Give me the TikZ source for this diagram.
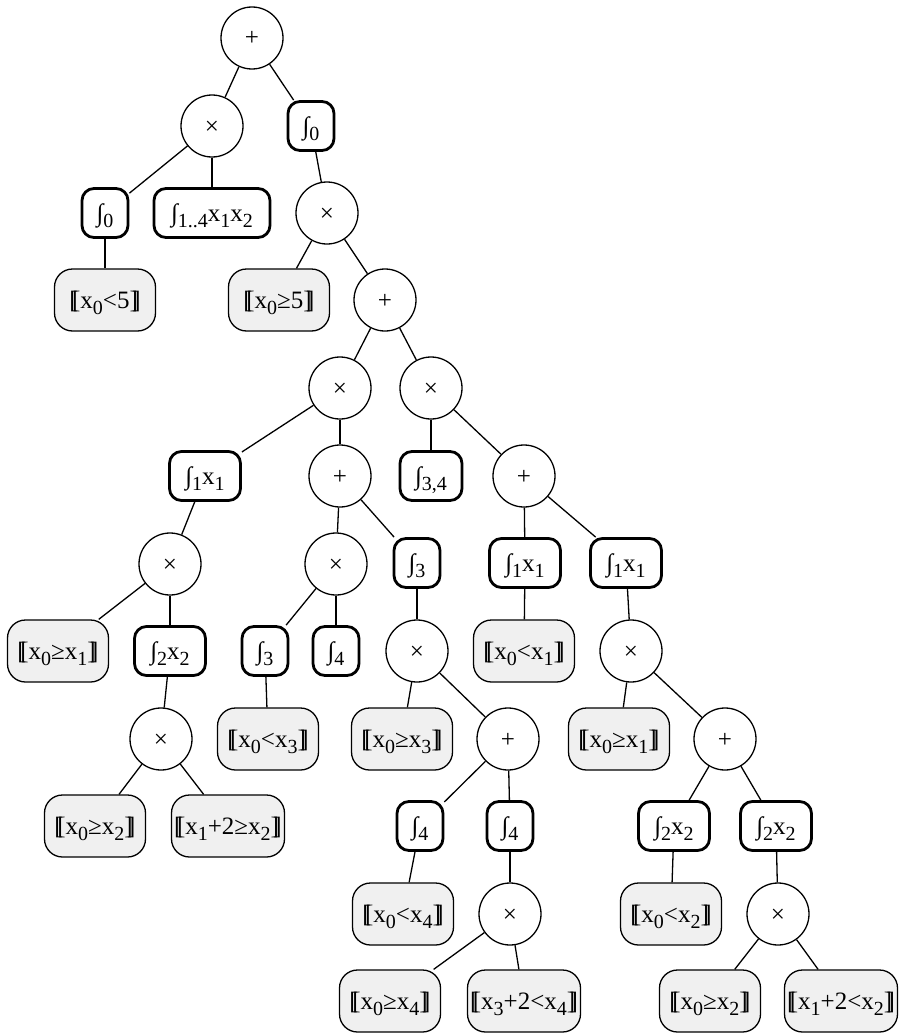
\documentclass[tikz,border=0pt]{standalone}
\usepackage{fontspec}
\setmainfont{Liberation Serif}
\definecolor{condgray}{RGB}{240,240,240}
\newcommand\sbs[1]{\raisebox{-0.25em}{\fontsize{20}{24}\selectfont #1}}
\newcommand\lbr{[\kern-0.22em[}
\newcommand\rbr{]\kern-0.22em]}
\begin{document}
\begin{tikzpicture}[x=1pt,y=-1pt,
  every node/.style={font=\fontsize{25}{30}\selectfont,text height=18pt,text depth=2pt},
  op/.style={circle,draw,line width=1.3pt,fill=white,minimum size=62pt,inner sep=0pt},
  intb/.style={rectangle,rounded corners=12pt,draw,line width=2.8pt,fill=white,minimum height=49pt,minimum width=46pt,inner sep=0pt},
  cond/.style={rectangle,rounded corners=18pt,draw,line width=1.3pt,fill=condgray,minimum height=62pt,minimum width=101pt,inner sep=0pt},
  wide/.style={minimum width=113pt},
  edge/.style={line width=1.3pt}]
\useasboundingbox (0,0) rectangle (902,1033);
% row 0
\node[op] (n1) at (252,38) {+};
% row 1
\node[op] (m1) at (212,126) {×};
\node[intb] (i1) at (311,126) {∫\sbs{0}};
% row 2
\node[intb] (i2) at (105,213) {∫\sbs{0}};
\node[intb,minimum width=116pt] (i3) at (212,213) {∫\sbs{1..4}x\sbs{1}x\sbs{2}};
\node[op] (m2) at (327,213) {×};
% row 3
\node[cond] (g1) at (105,300) {\lbr x\sbs{0}<5\rbr};
\node[cond] (g2) at (279,300) {\lbr x\sbs{0}≥5\rbr};
\node[op] (p2) at (385,300) {+};
% row 4
\node[op] (m3) at (340,388) {×};
\node[op] (m4) at (431,388) {×};
% row 5
\node[intb,minimum width=71pt] (i4) at (205,476) {∫\sbs{1}x\sbs{1}};
\node[op] (p3) at (340,476) {+};
\node[intb,minimum width=62pt] (i5) at (431,476) {∫\sbs{3,4}};
\node[op] (p4) at (524,476) {+};
% row 6
\node[op] (m5) at (170,564) {×};
\node[op] (m6) at (336,564) {×};
\node[intb] (i6) at (417,563) {∫\sbs{3}};
\node[intb,minimum width=71pt] (i7) at (525,563) {∫\sbs{1}x\sbs{1}};
\node[intb,minimum width=71pt] (i8) at (626,563) {∫\sbs{1}x\sbs{1}};
% row 7
\node[cond] (g3) at (58,651) {\lbr x\sbs{0}≥x\sbs{1}\rbr};
\node[intb,minimum width=71pt] (i9) at (170,651) {∫\sbs{2}x\sbs{2}};
\node[intb] (i10) at (265,651) {∫\sbs{3}};
\node[intb] (i11) at (336,651) {∫\sbs{4}};
\node[op] (m7) at (417,651) {×};
\node[cond] (g4) at (524,651) {\lbr x\sbs{0}<x\sbs{1}\rbr};
\node[op] (m8) at (631,651) {×};
% row 8
\node[op] (m9) at (161,739) {×};
\node[cond] (g5) at (268,739) {\lbr x\sbs{0}<x\sbs{3}\rbr};
\node[cond] (g6) at (402,739) {\lbr x\sbs{0}≥x\sbs{3}\rbr};
\node[op] (p5) at (508,739) {+};
\node[cond] (g7) at (619,739) {\lbr x\sbs{0}≥x\sbs{1}\rbr};
\node[op] (p6) at (725,739) {+};
% row 9
\node[cond] (g8) at (95,826) {\lbr x\sbs{0}≥x\sbs{2}\rbr};
\node[cond,wide] (g9) at (228,826) {\lbr x\sbs{1}+2≥x\sbs{2}\rbr};
\node[intb] (i12) at (420,826) {∫\sbs{4}};
\node[intb] (i13) at (510,826) {∫\sbs{4}};
\node[intb,minimum width=71pt] (i14) at (674,826) {∫\sbs{2}x\sbs{2}};
\node[intb,minimum width=71pt] (i15) at (776,826) {∫\sbs{2}x\sbs{2}};
% row 10
\node[cond] (g10) at (403,914) {\lbr x\sbs{0}<x\sbs{4}\rbr};
\node[op] (m10) at (510,914) {×};
\node[cond] (g11) at (671,914) {\lbr x\sbs{0}<x\sbs{2}\rbr};
\node[op] (m11) at (778,914) {×};
% row 11
\node[cond] (g12) at (390,1001) {\lbr x\sbs{0}≥x\sbs{4}\rbr};
\node[cond,wide] (g13) at (524,1001) {\lbr x\sbs{3}+2<x\sbs{4}\rbr};
\node[cond] (g14) at (710,1001) {\lbr x\sbs{0}≥x\sbs{2}\rbr};
\node[cond,wide] (g15) at (841,1001) {\lbr x\sbs{1}+2<x\sbs{2}\rbr};
% edges
\draw[edge] (n1) -- (m1);
\draw[edge] (n1) -- (i1);
\draw[edge] (m1) -- (i2);
\draw[edge] (m1) -- (i3);
\draw[edge] (i2) -- (g1);
\draw[edge] (i1) -- (m2);
\draw[edge] (m2) -- (g2);
\draw[edge] (m2) -- (p2);
\draw[edge] (p2) -- (m3);
\draw[edge] (p2) -- (m4);
\draw[edge] (m3) -- (i4);
\draw[edge] (m3) -- (p3);
\draw[edge] (m4) -- (i5);
\draw[edge] (m4) -- (p4);
\draw[edge] (i4) -- (m5);
\draw[edge] (m5) -- (g3);
\draw[edge] (m5) -- (i9);
\draw[edge] (i9) -- (m9);
\draw[edge] (m9) -- (g8);
\draw[edge] (m9) -- (g9);
\draw[edge] (p3) -- (m6);
\draw[edge] (p3) -- (i6);
\draw[edge] (m6) -- (i10);
\draw[edge] (m6) -- (i11);
\draw[edge] (i10) -- (g5);
\draw[edge] (i6) -- (m7);
\draw[edge] (m7) -- (g6);
\draw[edge] (m7) -- (p5);
\draw[edge] (p5) -- (i12);
\draw[edge] (p5) -- (i13);
\draw[edge] (i12) -- (g10);
\draw[edge] (i13) -- (m10);
\draw[edge] (m10) -- (g12);
\draw[edge] (m10) -- (g13);
\draw[edge] (p4) -- (i7);
\draw[edge] (p4) -- (i8);
\draw[edge] (i7) -- (g4);
\draw[edge] (i8) -- (m8);
\draw[edge] (m8) -- (g7);
\draw[edge] (m8) -- (p6);
\draw[edge] (p6) -- (i14);
\draw[edge] (p6) -- (i15);
\draw[edge] (i14) -- (g11);
\draw[edge] (i15) -- (m11);
\draw[edge] (m11) -- (g14);
\draw[edge] (m11) -- (g15);
\end{tikzpicture}
\end{document}
